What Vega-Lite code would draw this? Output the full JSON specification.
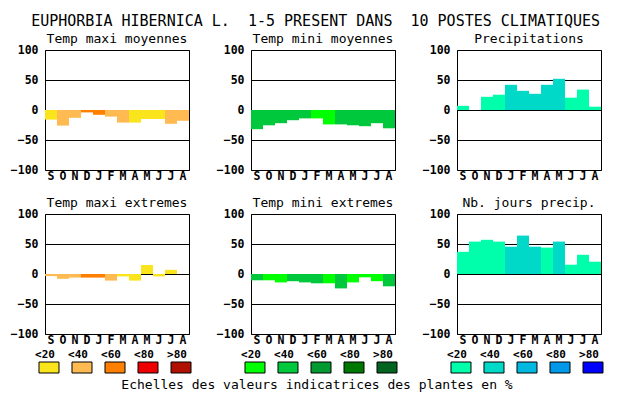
{
  "$schema": "https://vega.github.io/schema/vega-lite/v6.json",
  "background": "white",
  "autosize": {"type": "none"},
  "padding": {"left": 45, "top": 50, "right": 585, "bottom": 344},
  "config": {
    "font": "DejaVu Sans Mono",
    "view": {"stroke": "black", "strokeWidth": 1},
    "axisY": {"grid": true, "gridColor": "black", "gridOpacity": 1, "gridWidth": 1, "ticks": false, "domain": false, "labelFont": "DejaVu Sans Mono", "labelFontWeight": "bold", "labelFontSize": 11.5, "labelColor": "black", "labelPadding": 7, "zindex": 1},
    "axisX": {"grid": false, "ticks": false, "domain": false, "labelAngle": 0, "labelFont": "DejaVu Sans Mono", "labelFontWeight": "bold", "labelFontSize": 11.5, "labelColor": "black", "labelPadding": 0.5},
    "title": {"font": "DejaVu Sans Mono", "fontSize": 13, "fontWeight": "normal", "color": "black", "anchor": "middle", "frame": "group", "offset": -2, "baseline": "alphabetic"}
  },
  "title": {"text": "EUPHORBIA HIBERNICA L.\u00a0 1-5 PRESENT DANS\u00a0 10 POSTES CLIMATIQUES", "fontSize": 15, "frame": "bounds", "dx": 9, "offset": 4},
  "datasets": {
    "tmaxmoy": [
      {"mois": "Sep", "v": -16, "c": "T<20"}, {"mois": "Oct", "v": -26, "c": "T<40"}, {"mois": "Nov", "v": -13, "c": "T<40"},
      {"mois": "Dec", "v": -4, "c": "T<60"}, {"mois": "Jan", "v": -8, "c": "T<60"}, {"mois": "Fev", "v": -11, "c": "T<40"},
      {"mois": "Mar", "v": -21, "c": "T<40"}, {"mois": "Avr", "v": -21, "c": "T<20"}, {"mois": "Mai", "v": -15, "c": "T<20"},
      {"mois": "Jun", "v": -15, "c": "T<20"}, {"mois": "Jul", "v": -23, "c": "T<40"}, {"mois": "Aou", "v": -18, "c": "T<40"}
    ],
    "tminmoy": [
      {"mois": "Sep", "v": -32, "c": "M<40"}, {"mois": "Oct", "v": -25.5, "c": "M<40"}, {"mois": "Nov", "v": -22, "c": "M<40"},
      {"mois": "Dec", "v": -17, "c": "M<40"}, {"mois": "Jan", "v": -14, "c": "M<40"}, {"mois": "Fev", "v": -14, "c": "M<20"},
      {"mois": "Mar", "v": -24, "c": "M<20"}, {"mois": "Avr", "v": -24, "c": "M<40"}, {"mois": "Mai", "v": -25.5, "c": "M<40"},
      {"mois": "Jun", "v": -27, "c": "M<40"}, {"mois": "Jul", "v": -22, "c": "M<40"}, {"mois": "Aou", "v": -30.5, "c": "M<40"}
    ],
    "precip": [
      {"mois": "Sep", "v": 7, "c": "P<20"}, {"mois": "Oct", "v": 0, "c": "P<20"}, {"mois": "Nov", "v": 22, "c": "P<20"},
      {"mois": "Dec", "v": 25.5, "c": "P<20"}, {"mois": "Jan", "v": 42, "c": "P<40"}, {"mois": "Fev", "v": 32, "c": "P<40"},
      {"mois": "Mar", "v": 27, "c": "P<40"}, {"mois": "Avr", "v": 42, "c": "P<40"}, {"mois": "Mai", "v": 52, "c": "P<40"},
      {"mois": "Jun", "v": 20.5, "c": "P<20"}, {"mois": "Jul", "v": 34, "c": "P<20"}, {"mois": "Aou", "v": 5.5, "c": "P<20"}
    ],
    "tmaxext": [
      {"mois": "Sep", "v": -3.5, "c": "T<40"}, {"mois": "Oct", "v": -8, "c": "T<40"}, {"mois": "Nov", "v": -6, "c": "T<40"},
      {"mois": "Dec", "v": -6, "c": "T<60"}, {"mois": "Jan", "v": -6, "c": "T<60"}, {"mois": "Fev", "v": -11, "c": "T<40"},
      {"mois": "Mar", "v": -4, "c": "T<20"}, {"mois": "Avr", "v": -11, "c": "T<20"}, {"mois": "Mai", "v": 15, "c": "T<20"},
      {"mois": "Jun", "v": -4, "c": "T<20"}, {"mois": "Jul", "v": 7, "c": "T<20"}, {"mois": "Aou", "v": 0, "c": "T<20"}
    ],
    "tminext": [
      {"mois": "Sep", "v": -10.5, "c": "M<40"}, {"mois": "Oct", "v": -10.5, "c": "M<20"}, {"mois": "Nov", "v": -14, "c": "M<20"},
      {"mois": "Dec", "v": -12, "c": "M<40"}, {"mois": "Jan", "v": -14, "c": "M<40"}, {"mois": "Fev", "v": -15.5, "c": "M<40"},
      {"mois": "Mar", "v": -15.5, "c": "M<20"}, {"mois": "Avr", "v": -24, "c": "M<40"}, {"mois": "Mai", "v": -14, "c": "M<20"},
      {"mois": "Jun", "v": -5.5, "c": "M<20"}, {"mois": "Jul", "v": -12, "c": "M<20"}, {"mois": "Aou", "v": -20.5, "c": "M<40"}
    ],
    "njours": [
      {"mois": "Sep", "v": 37, "c": "P<20"}, {"mois": "Oct", "v": 54, "c": "P<20"}, {"mois": "Nov", "v": 57, "c": "P<20"},
      {"mois": "Dec", "v": 54, "c": "P<20"}, {"mois": "Jan", "v": 45.5, "c": "P<40"}, {"mois": "Fev", "v": 64, "c": "P<40"},
      {"mois": "Mar", "v": 45.5, "c": "P<40"}, {"mois": "Avr", "v": 44, "c": "P<20"}, {"mois": "Mai", "v": 54, "c": "P<40"},
      {"mois": "Jun", "v": 15.5, "c": "P<20"}, {"mois": "Jul", "v": 32, "c": "P<20"}, {"mois": "Aou", "v": 20.5, "c": "P<20"}
    ],
    "legT": [
      {"i": 0, "lab": "<20", "c": "T<20"}, {"i": 1, "lab": "<40", "c": "T<40"}, {"i": 2, "lab": "<60", "c": "T<60"}, {"i": 3, "lab": "<80", "c": "T<80"}, {"i": 4, "lab": ">80", "c": "T>80"}
    ],
    "legM": [
      {"i": 0, "lab": "<20", "c": "M<20"}, {"i": 1, "lab": "<40", "c": "M<40"}, {"i": 2, "lab": "<60", "c": "M<60"}, {"i": 3, "lab": "<80", "c": "M<80"}, {"i": 4, "lab": ">80", "c": "M>80"}
    ],
    "legP": [
      {"i": 0, "lab": "<20", "c": "P<20"}, {"i": 1, "lab": "<40", "c": "P<40"}, {"i": 2, "lab": "<60", "c": "P<60"}, {"i": 3, "lab": "<80", "c": "P<80"}, {"i": 4, "lab": ">80", "c": "P>80"}
    ]
  },
  "concat": [
    {"width": 144, "height": 120, "title": {"text": "Temp maxi moyennes"}, "data": {"name": "tmaxmoy"},
     "mark": {"type": "bar", "width": {"band": 1}},
     "encoding": {
       "x": {"field": "mois", "type": "ordinal", "sort": null, "scale": {"paddingInner": 0, "paddingOuter": 0}, "axis": {"labelExpr": "slice(datum.label,0,1)", "title": null}},
       "y": {"field": "v", "type": "quantitative", "scale": {"domain": [-100, 100], "nice": false}, "axis": {"values": [-100, -50, 0, 50, 100], "title": null}},
       "color": {"field": "c", "type": "nominal", "legend": null, "scale": {"domain": ["T<20","T<40","T<60","T<80","T>80","M<20","M<40","M<60","M<80","M>80","P<20","P<40","P<60","P<80","P>80"], "range": ["#FAE41C","#FFBB52","#FF8000","#EE0000","#B01000","#00FF00","#00C83C","#009A30","#007800","#006420","#00FFAA","#00D8C8","#00B8E0","#0098E8","#0000FF"]}}
     }},
    {"width": 144, "height": 120, "title": {"text": "Temp mini moyennes"}, "data": {"name": "tminmoy"},
     "mark": {"type": "bar", "width": {"band": 1}},
     "encoding": {
       "x": {"field": "mois", "type": "ordinal", "sort": null, "scale": {"paddingInner": 0, "paddingOuter": 0}, "axis": {"labelExpr": "slice(datum.label,0,1)", "title": null}},
       "y": {"field": "v", "type": "quantitative", "scale": {"domain": [-100, 100], "nice": false}, "axis": {"values": [-100, -50, 0, 50, 100], "title": null}},
       "color": {"field": "c", "type": "nominal", "legend": null, "scale": {"domain": ["T<20","T<40","T<60","T<80","T>80","M<20","M<40","M<60","M<80","M>80","P<20","P<40","P<60","P<80","P>80"], "range": ["#FAE41C","#FFBB52","#FF8000","#EE0000","#B01000","#00FF00","#00C83C","#009A30","#007800","#006420","#00FFAA","#00D8C8","#00B8E0","#0098E8","#0000FF"]}}
     }},
    {"width": 144, "height": 120, "title": {"text": "Precipitations"}, "data": {"name": "precip"},
     "mark": {"type": "bar", "width": {"band": 1}},
     "encoding": {
       "x": {"field": "mois", "type": "ordinal", "sort": null, "scale": {"paddingInner": 0, "paddingOuter": 0}, "axis": {"labelExpr": "slice(datum.label,0,1)", "title": null}},
       "y": {"field": "v", "type": "quantitative", "scale": {"domain": [-100, 100], "nice": false}, "axis": {"values": [-100, -50, 0, 50, 100], "title": null}},
       "color": {"field": "c", "type": "nominal", "legend": null, "scale": {"domain": ["T<20","T<40","T<60","T<80","T>80","M<20","M<40","M<60","M<80","M>80","P<20","P<40","P<60","P<80","P>80"], "range": ["#FAE41C","#FFBB52","#FF8000","#EE0000","#B01000","#00FF00","#00C83C","#009A30","#007800","#006420","#00FFAA","#00D8C8","#00B8E0","#0098E8","#0000FF"]}}
     }},
    {"width": 144, "height": 120, "title": {"text": "Temp maxi extremes"}, "data": {"name": "tmaxext"},
     "mark": {"type": "bar", "width": {"band": 1}},
     "encoding": {
       "x": {"field": "mois", "type": "ordinal", "sort": null, "scale": {"paddingInner": 0, "paddingOuter": 0}, "axis": {"labelExpr": "slice(datum.label,0,1)", "title": null}},
       "y": {"field": "v", "type": "quantitative", "scale": {"domain": [-100, 100], "nice": false}, "axis": {"values": [-100, -50, 0, 50, 100], "title": null}},
       "color": {"field": "c", "type": "nominal", "legend": null, "scale": {"domain": ["T<20","T<40","T<60","T<80","T>80","M<20","M<40","M<60","M<80","M>80","P<20","P<40","P<60","P<80","P>80"], "range": ["#FAE41C","#FFBB52","#FF8000","#EE0000","#B01000","#00FF00","#00C83C","#009A30","#007800","#006420","#00FFAA","#00D8C8","#00B8E0","#0098E8","#0000FF"]}}
     }},
    {"width": 144, "height": 120, "title": {"text": "Temp mini extremes"}, "data": {"name": "tminext"},
     "mark": {"type": "bar", "width": {"band": 1}},
     "encoding": {
       "x": {"field": "mois", "type": "ordinal", "sort": null, "scale": {"paddingInner": 0, "paddingOuter": 0}, "axis": {"labelExpr": "slice(datum.label,0,1)", "title": null}},
       "y": {"field": "v", "type": "quantitative", "scale": {"domain": [-100, 100], "nice": false}, "axis": {"values": [-100, -50, 0, 50, 100], "title": null}},
       "color": {"field": "c", "type": "nominal", "legend": null, "scale": {"domain": ["T<20","T<40","T<60","T<80","T>80","M<20","M<40","M<60","M<80","M>80","P<20","P<40","P<60","P<80","P>80"], "range": ["#FAE41C","#FFBB52","#FF8000","#EE0000","#B01000","#00FF00","#00C83C","#009A30","#007800","#006420","#00FFAA","#00D8C8","#00B8E0","#0098E8","#0000FF"]}}
     }},
    {"width": 144, "height": 120, "title": {"text": "Nb. jours precip."}, "data": {"name": "njours"},
     "mark": {"type": "bar", "width": {"band": 1}},
     "encoding": {
       "x": {"field": "mois", "type": "ordinal", "sort": null, "scale": {"paddingInner": 0, "paddingOuter": 0}, "axis": {"labelExpr": "slice(datum.label,0,1)", "title": null}},
       "y": {"field": "v", "type": "quantitative", "scale": {"domain": [-100, 100], "nice": false}, "axis": {"values": [-100, -50, 0, 50, 100], "title": null}},
       "color": {"field": "c", "type": "nominal", "legend": null, "scale": {"domain": ["T<20","T<40","T<60","T<80","T>80","M<20","M<40","M<60","M<80","M>80","P<20","P<40","P<60","P<80","P>80"], "range": ["#FAE41C","#FFBB52","#FF8000","#EE0000","#B01000","#00FF00","#00C83C","#009A30","#007800","#006420","#00FFAA","#00D8C8","#00B8E0","#0098E8","#0000FF"]}}
     }},
    {"width": 144, "height": 10, "view": {"stroke": null}, "data": {"name": "legT"},
     "layer": [
       {"mark": {"type": "tick", "orient": "vertical", "thickness": 20, "size": 11, "stroke": "black", "strokeWidth": 1, "yOffset": -15.5, "opacity": 1},
        "encoding": {
          "x": {"field": "i", "type": "quantitative", "scale": {"domain": [-0.1212, 4.2424], "nice": false, "zero": false}, "axis": null},
          "color": {"field": "c", "type": "nominal", "legend": null, "scale": {"domain": ["T<20","T<40","T<60","T<80","T>80","M<20","M<40","M<60","M<80","M>80","P<20","P<40","P<60","P<80","P>80"], "range": ["#FAE41C","#FFBB52","#FF8000","#EE0000","#B01000","#00FF00","#00C83C","#009A30","#007800","#006420","#00FFAA","#00D8C8","#00B8E0","#0098E8","#0000FF"]}}
        }},
       {"mark": {"type": "text", "dy": -28.5, "dx": -4, "baseline": "middle", "fontWeight": "bold", "fontSize": 11, "color": "black"},
        "encoding": {
          "x": {"field": "i", "type": "quantitative", "scale": {"domain": [-0.1212, 4.2424], "nice": false, "zero": false}, "axis": null},
          "text": {"field": "lab"}
        }}
     ]},
    {"width": 144, "height": 10, "view": {"stroke": null}, "data": {"name": "legM"},
     "title": {"text": "Echelles des valeurs indicatrices des plantes en %", "orient": "bottom", "frame": "group", "offset": -9, "dx": -6},
     "layer": [
       {"mark": {"type": "tick", "orient": "vertical", "thickness": 20, "size": 11, "stroke": "black", "strokeWidth": 1, "yOffset": -15.5, "opacity": 1},
        "encoding": {
          "x": {"field": "i", "type": "quantitative", "scale": {"domain": [-0.1212, 4.2424], "nice": false, "zero": false}, "axis": null},
          "color": {"field": "c", "type": "nominal", "legend": null, "scale": {"domain": ["T<20","T<40","T<60","T<80","T>80","M<20","M<40","M<60","M<80","M>80","P<20","P<40","P<60","P<80","P>80"], "range": ["#FAE41C","#FFBB52","#FF8000","#EE0000","#B01000","#00FF00","#00C83C","#009A30","#007800","#006420","#00FFAA","#00D8C8","#00B8E0","#0098E8","#0000FF"]}}
        }},
       {"mark": {"type": "text", "dy": -28.5, "dx": -4, "baseline": "middle", "fontWeight": "bold", "fontSize": 11, "color": "black"},
        "encoding": {
          "x": {"field": "i", "type": "quantitative", "scale": {"domain": [-0.1212, 4.2424], "nice": false, "zero": false}, "axis": null},
          "text": {"field": "lab"}
        }}
     ]},
    {"width": 144, "height": 10, "view": {"stroke": null}, "data": {"name": "legP"},
     "layer": [
       {"mark": {"type": "tick", "orient": "vertical", "thickness": 20, "size": 11, "stroke": "black", "strokeWidth": 1, "yOffset": -15.5, "opacity": 1},
        "encoding": {
          "x": {"field": "i", "type": "quantitative", "scale": {"domain": [-0.1212, 4.2424], "nice": false, "zero": false}, "axis": null},
          "color": {"field": "c", "type": "nominal", "legend": null, "scale": {"domain": ["T<20","T<40","T<60","T<80","T>80","M<20","M<40","M<60","M<80","M>80","P<20","P<40","P<60","P<80","P>80"], "range": ["#FAE41C","#FFBB52","#FF8000","#EE0000","#B01000","#00FF00","#00C83C","#009A30","#007800","#006420","#00FFAA","#00D8C8","#00B8E0","#0098E8","#0000FF"]}}
        }},
       {"mark": {"type": "text", "dy": -28.5, "dx": -4, "baseline": "middle", "fontWeight": "bold", "fontSize": 11, "color": "black"},
        "encoding": {
          "x": {"field": "i", "type": "quantitative", "scale": {"domain": [-0.1212, 4.2424], "nice": false, "zero": false}, "axis": null},
          "text": {"field": "lab"}
        }}
     ]}
  ],
  "columns": 3,
  "spacing": {"row": 44, "column": 62},
  "bounds": "flush"
}
